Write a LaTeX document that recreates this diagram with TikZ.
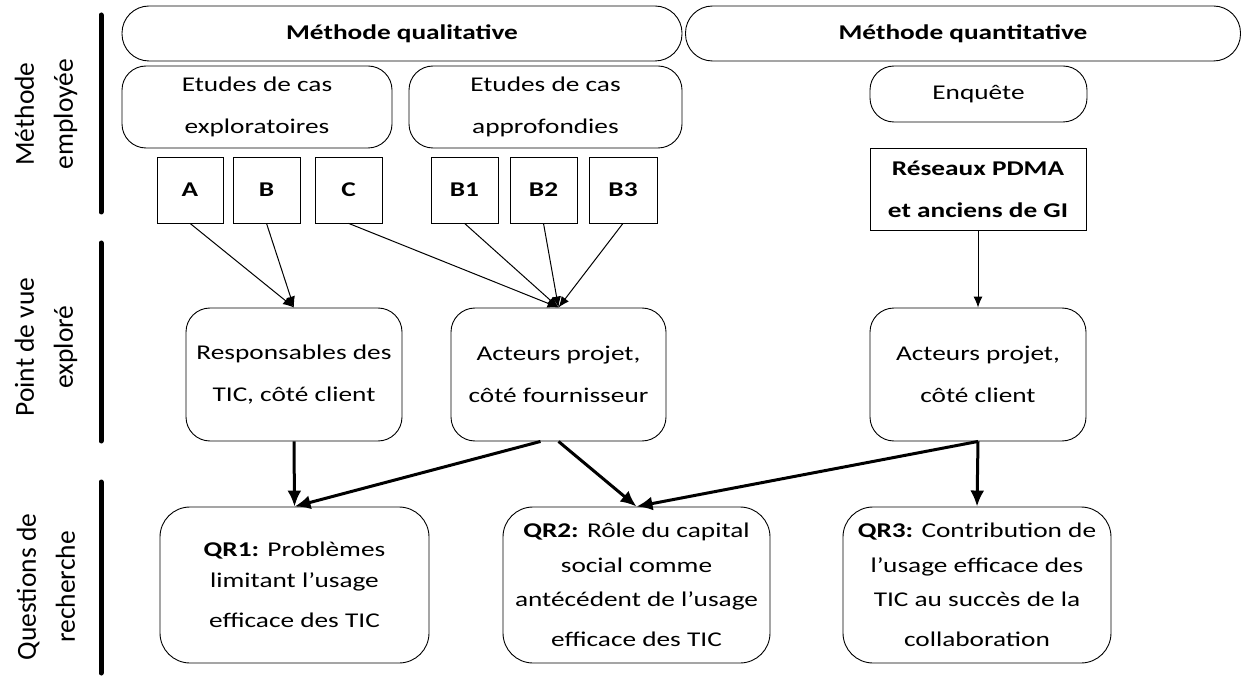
\documentclass[tikz,border=0pt]{standalone}
\usepackage{fontspec}
\setmainfont{Carlito}[FakeStretch=1.3]
\newfontfamily\lblfont{Carlito}
\usetikzlibrary{arrows.meta,calc}
\begin{document}
\begin{tikzpicture}[x=1pt,y=-1pt,
 every node/.style={inner sep=0pt, align=center, font=\fontsize{21}{42}\selectfont},
 pill/.style={draw, line width=0.9pt, rounded corners=27pt, minimum height=55pt, font=\fontsize{21}{42}\selectfont\bfseries},
 rbox/.style={draw, line width=0.9pt, rounded corners=24pt},
 qbox/.style={draw, line width=0.9pt, rounded corners=30pt, minimum height=156pt},
 sq/.style={draw, line width=0.7pt, font=\fontsize{21}{42}\selectfont\bfseries},
 lbl/.style={rotate=90, font=\lblfont\fontsize{27.5}{39}\selectfont},
 thinarr/.style={line width=1pt, -{Latex[length=11pt,width=9pt]}},
 thickarr/.style={line width=3pt, -{Latex[length=16pt,width=14pt]}},
 bar/.style={line width=5pt, line cap=round}]
\useasboundingbox (0,0) rectangle (1243,679);

% side labels and bars
\node[lbl] (l1) at (46,114) {Méthode\\employée};
\node[lbl] (l2) at (46,347) {Point de vue\\exploré};
\node[lbl] (l3) at (46,587) {Questions de\\recherche};
\draw[bar] (101,15) -- (101,212);
\draw[bar] (101,243) -- (101,441);
\draw[bar] (101,482) -- (101,673);

% top row
\node[pill, minimum width=560pt] (qual) at (402,33.5) {Méthode qualitative};
\node[pill, minimum width=555pt] (quant) at (963,33.5) {Méthode quantitative};

\node[rbox, minimum width=270pt, minimum height=82pt] (explo) at (257,107) {Etudes de cas\\exploratoires};
\node[rbox, minimum width=273pt, minimum height=82pt] (appro) at (545.5,107) {Etudes de cas\\approfondies};
\node[rbox, minimum width=217pt, minimum height=56pt] (enq) at (978.5,94) {Enquête};

\node[sq, minimum width=66pt, minimum height=66pt] (A) at (190,190) {A};
\node[sq, minimum width=67pt, minimum height=66pt] (B) at (266.5,190) {B};
\node[sq, minimum width=67pt, minimum height=66pt] (C) at (348.5,190) {C};
\node[sq, minimum width=67pt, minimum height=66pt] (B1) at (464.5,190) {B1};
\node[sq, minimum width=67pt, minimum height=66pt] (B2) at (543.5,190) {B2};
\node[sq, minimum width=68pt, minimum height=66pt] (B3) at (623,190) {B3};
\node[sq, minimum width=216pt, minimum height=82pt] (res) at (978,189) {Réseaux PDMA\\et anciens de GI};

% middle row
\node[rbox, minimum width=216pt, minimum height=133pt] (resp) at (294,374.5) {Responsables des\\TIC, côté client};
\node[rbox, minimum width=215pt, minimum height=133pt] (four) at (558.5,374.5) {Acteurs projet,\\côté fournisseur};
\node[rbox, minimum width=216pt, minimum height=133pt] (cli) at (978,374.5) {Acteurs projet,\\côté client};

% bottom row
\node[qbox, minimum width=269pt, font=\fontsize{21}{31}\selectfont] (qr1) at (294.5,585) {\textbf{QR1:} Problèmes\\limitant l’usage\\[9pt]efficace des TIC};
\node[qbox, minimum width=267pt, font=\fontsize{21}{34.5}\selectfont] (qr2) at (636.5,585) {\textbf{QR2:} Rôle du capital\\social comme\\antécédent de l’usage\\[5.5pt]efficace des TIC};
\node[qbox, minimum width=268pt, font=\fontsize{21}{34.5}\selectfont] (qr3) at (977,585) {\textbf{QR3:} Contribution de\\l’usage efficace des\\TIC au succès de la\\[5.5pt]collaboration};

% thin arrows
\draw[thinarr] (A.south) -- (resp.north);
\draw[thinarr] (B.south) -- (resp.north);
\draw[thinarr] (C.south) -- (four.north);
\draw[thinarr] (B1.south) -- (four.north);
\draw[thinarr] (B2.south) -- (four.north);
\draw[thinarr] (B3.south) -- (four.north);
\draw[thinarr] (res.south) -- (cli.north);

% thick arrows
\coordinate (f1) at ($(four.south)+(-18,0)$);
\coordinate (f2) at ($(four.south)+(0,0)$);
\draw[thickarr] (resp.south) -- (qr1.north);
\draw[thickarr] (f1) -- (qr1.north);
\draw[thickarr] (f2) -- (qr2.north);
\draw[thickarr] (cli.south) -- (qr2.north);
\draw[thickarr] (cli.south) -- (qr3.north);
\end{tikzpicture}
\end{document}
